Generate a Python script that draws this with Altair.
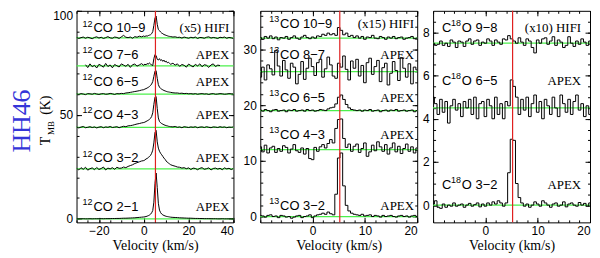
import altair as alt
import pandas as pd

# ---------------- velocity grids (km/s) ----------------
V1 = [float(v) for v in range(-30, 0)] + [v / 2 for v in range(0, 24)] + [float(v) for v in range(12, 41)]
V2 = [v / 2 for v in range(-20, 41)]
V3 = [v / 2 for v in range(-20, 41)]
CENTER = 5.2

# ---------------- panel 1: 12CO (offsets above each baseline) ----------------
CO21 = [0.0,0.0,0.0,0.05,0.0,0.0,0.05,0.0,0.05,0.05,
        0.05,0.1,0.05,0.1,0.1,0.1,0.15,0.15,0.2,0.2,
        0.25,0.3,0.3,0.35,0.4,0.45,0.5,0.6,0.7,0.8,
        0.9,1.0,1.1,1.3,1.5,1.8,2.2,2.9,4.0,8.0,17.0,22.0,
        15.0,7.5,4.2,3.0,2.3,1.9,1.6,1.4,1.2,1.1,1.0,0.9,
        0.8,0.7,0.65,0.6,0.5,0.45,0.4,0.35,0.3,0.3,
        0.25,0.2,0.2,0.15,0.15,0.1,0.1,0.1,0.05,0.05,
        0.05,0.0,0.0,0.05,0.0,0.0,0.0,0.0,0.0]
CO32 = [0.3,-0.5,0.6,-0.2,0.8,-0.6,0.1,0.5,-0.4,0.7,
        -0.3,0.2,0.9,-0.5,0.4,0.0,0.6,-0.2,0.8,0.3,
        0.4,0.9,0.6,1.2,1.6,2.0,2.6,3.0,3.4,3.8,
        4.0,4.3,4.8,5.0,5.5,5.9,6.5,7.5,9.0,12.5,17.5,18.5,
        13.0,10.0,8.5,7.5,6.8,6.0,5.2,4.6,3.8,3.2,2.8,2.4,
        2.0,1.6,1.3,0.9,0.8,0.4,0.6,0.1,0.5,-0.3,
        0.4,0.2,-0.4,0.3,0.6,-0.2,0.1,0.5,-0.5,0.2,
        0.4,-0.1,0.3,-0.4,0.5,0.0,0.3,-0.3,0.2]
CO43 = [0.2,-0.3,0.1,0.4,-0.2,0.0,0.3,-0.1,0.2,-0.3,
        0.1,0.3,-0.2,0.2,0.0,0.4,-0.1,0.1,0.3,-0.2,
        0.2,0.5,0.3,0.7,0.8,1.0,1.3,1.6,1.8,2.1,
        2.3,2.5,2.8,3.1,3.4,3.8,4.3,5.2,7.0,11.0,14.5,14.8,
        9.0,4.5,2.8,2.2,1.8,1.5,1.2,1.0,0.8,0.7,0.5,0.4,
        0.3,0.2,0.4,0.0,0.2,-0.2,0.3,0.1,-0.1,0.2,
        0.0,0.3,-0.2,0.1,0.2,-0.1,0.3,0.0,-0.2,0.2,
        0.1,-0.1,0.3,0.0,0.2,-0.2,0.1,0.0,0.2]
CO65 = [0.1,-0.2,0.2,0.0,-0.3,0.2,0.1,-0.1,0.3,0.0,
        -0.2,0.1,0.2,-0.1,0.0,0.3,0.1,-0.2,0.2,0.1,
        0.3,0.2,0.5,0.6,0.8,1.0,1.2,1.4,1.6,1.9,
        2.1,2.4,2.6,2.9,3.2,3.6,4.1,4.8,6.0,8.5,11.0,11.2,
        7.5,4.5,3.3,2.7,2.3,2.0,1.7,1.5,1.3,1.1,1.0,0.9,
        0.8,0.6,0.5,0.5,0.3,0.4,0.2,0.3,0.1,0.2,
        0.0,0.2,-0.1,0.1,0.2,0.0,0.1,-0.2,0.1,0.2,
        -0.1,0.0,0.2,0.1,-0.1,0.0,0.2,0.1,0.0]
CO76 = [None,None,None,None,0.6,-0.8,1.0,-0.4,0.3,-1.0,
        0.8,0.2,-0.6,1.2,-0.3,0.5,-0.9,0.7,0.1,-0.5,
        1.0,0.4,-0.2,0.8,-0.7,0.6,0.9,-0.1,0.5,1.1,
        0.3,0.9,0.5,1.2,0.8,1.5,1.0,0.4,0.2,3.5,5.5,5.0,
        3.2,2.8,3.5,2.6,3.0,2.2,2.8,1.9,2.3,1.5,1.8,1.2,
        0.8,1.3,0.4,1.0,-0.2,0.7,0.3,-0.6,0.9,0.2,
        -0.5,0.8,0.0,1.0,-0.4,0.6,0.3,-0.7,0.5,1.0,
        -0.3,0.4,0.2,None,None,None,None,None,None]
CO109 = [0.2,-0.3,0.1,0.4,-0.2,0.3,0.0,-0.4,0.2,0.5,
         -0.1,0.3,-0.3,0.1,0.6,0.0,-0.2,0.4,0.2,-0.3,
         0.5,1.2,0.3,0.1,0.4,-0.2,0.6,0.3,0.8,0.5,
         0.9,0.6,1.0,0.8,1.1,1.3,1.5,2.0,3.0,6.0,9.5,10.5,
         6.5,4.0,3.5,2.8,2.3,2.0,1.6,1.4,1.2,1.0,0.8,0.7,
         0.6,0.4,0.5,0.2,0.3,-0.1,0.4,0.1,-0.2,0.3,
         0.0,0.4,-0.3,0.2,0.1,-0.2,0.3,0.5,-0.1,0.2,
         0.0,-0.3,0.3,0.1,0.4,-0.2,0.2,0.0,-0.3]
P1_SERIES = [CO21, CO32, CO43, CO65, CO76, CO109]
P1_BASE = [0, 24, 44, 60, 73.5, 87]
P1_PRE = ["", "", "", "", "", ""]
P1_SUP = ["12", "12", "12", "12", "12", "12"]
P1_MAIN = ["CO 2−1", "CO 3−2", "CO 4−3", "CO 6−5", "CO 7−6", "CO 10−9"]
P1_LABEL_Y = [5.8, 29, 50, 66, 78.7, 91.5]
P1_RIGHT = ["APEX", "APEX", "APEX", "APEX", "APEX", "(x5)  HIFI"]

# ---------------- panel 2: 13CO ----------------
C13_32 = [0.2,0.1,-0.1,0.2,0.3,0.0,0.1,-0.2,0.2,0.1,-0.1,0.0,-0.3,-0.1,0.1,0.2,-0.2,0.0,0.1,0.3,
          -0.2,0.1,0.3,0.4,0.6,0.4,0.8,0.5,
          0.3,4.0,10.5,11.4,5.5,2.0,1.0,0.6,0.4,
          0.3,0.2,0.4,0.1,0.2,0.3,0.0,0.2,0.1,-0.1,0.2,0.0,0.1,0.2,0.0,-0.1,0.1,0.2,0.0,0.1,-0.1,0.1,0.2,0.0]
C13_43 = [0.5,-0.4,0.8,-0.6,0.3,0.6,-0.5,0.2,-0.3,0.7,0.4,-0.6,0.1,0.9,-0.2,-0.5,0.3,-0.8,0.2,-1.6,
          -1.8,0.4,-0.3,0.5,0.9,0.3,1.1,1.8,
          1.2,3.8,5.4,5.5,2.0,0.4,1.0,-0.3,0.6,
          1.0,-0.5,0.2,1.2,-1.2,-0.4,0.8,-0.2,1.4,0.5,-0.3,0.9,-0.8,0.3,1.2,-0.4,0.6,-0.7,0.2,1.0,-0.3,0.5,-0.6,0.3]
C13_65 = [0.1,-0.1,0.2,0.0,-0.2,0.1,0.2,-0.1,0.0,0.1,-0.2,0.1,0.0,0.2,-0.1,0.0,0.1,-0.1,0.2,0.0,
          0.1,-0.1,0.0,0.2,0.1,0.0,0.3,0.5,
          0.6,1.2,2.4,2.8,2.0,1.1,0.5,0.2,0.1,
          0.0,0.1,-0.1,0.1,0.0,0.2,-0.1,0.0,0.1,-0.2,0.0,0.1,-0.1,0.1,0.0,0.2,-0.1,0.0,0.1,-0.1,0.0,0.1,-0.2,0.0]
C13_87 = [-1.0,0.8,-1.5,1.2,0.5,-0.6,3.8,1.0,-0.8,2.0,0.3,-1.2,1.5,0.8,-2.2,-0.5,1.8,-1.4,0.6,2.4,
          0.9,-0.7,1.6,2.2,-1.0,0.5,2.6,1.2,
          -0.8,-1.2,1.5,0.8,2.8,0.4,-1.5,1.9,0.6,
          2.2,-0.8,1.1,-2.0,1.6,2.4,-0.5,0.9,2.0,-1.8,0.7,1.5,-2.4,-0.3,1.8,0.2,-1.6,2.5,0.6,-1.0,1.4,-2.2,0.8,0.3]
C13_109 = [0.1,-0.2,0.3,0.0,0.4,-0.1,0.2,-0.3,0.1,0.0,0.3,-0.2,0.1,0.4,0.0,-0.2,0.2,0.5,0.1,-0.1,
           0.2,0.0,0.4,0.3,0.7,0.5,0.9,0.6,
           0.8,0.5,1.9,1.4,0.6,0.9,0.3,0.5,0.1,
           0.4,0.0,0.3,-0.2,0.2,0.1,0.5,0.0,-0.1,0.3,0.1,-0.2,0.2,0.0,0.3,-0.1,0.1,0.2,-0.2,0.0,0.1,0.3,-0.1,0.0]
P2_SERIES = [C13_32, C13_43, C13_65, C13_87, C13_109]
P2_BASE = [0, 12, 19, 26, 32]
P2_PRE = ["", "", "", "", ""]
P2_SUP = ["13", "13", "13", "13", "13"]
P2_MAIN = ["CO 3−2", "CO 4−3", "CO 6−5", "CO 8−7", "CO 10−9"]
P2_LABEL_Y = [1.9, 14.6, 21.2, 29.0, 34.5]
P2_RIGHT = ["APEX", "APEX", "APEX", "APEX", "(x15) HIFI"]

# ---------------- panel 3: C18O ----------------
C18_32 = [0.05,0.2,-0.1,-0.15,0.05,-0.1,0.0,-0.05,0.1,-0.05,0.0,0.05,-0.1,0.0,0.08,-0.05,0.02,0.1,-0.08,0.05,
          -0.05,0.1,0.0,0.15,0.05,0.2,0.1,-0.05,
          0.1,1.5,3.05,3.0,1.0,0.35,0.1,-0.05,0.05,
          -0.1,0.0,0.15,0.05,-0.05,0.2,0.1,0.0,-0.1,0.05,0.1,-0.05,0.0,0.15,-0.08,0.05,0.1,0.0,-0.05,0.12,0.0,0.08,-0.05,0.1]
C18_65 = [0.5,0.2,-0.3,0.4,-0.2,0.3,-0.7,0.1,0.4,-0.1,0.2,-0.4,0.3,0.0,0.4,-0.3,0.5,-0.5,0.2,0.3,
          -0.4,0.4,0.1,-0.5,0.5,-0.3,0.2,-0.5,
          0.3,0.1,1.3,1.0,0.5,-0.3,0.4,-0.1,0.5,
          -0.4,0.2,0.6,-0.2,0.3,-0.5,0.4,0.1,-0.3,0.5,0.0,-0.4,0.6,0.2,-0.2,0.4,-0.3,0.3,0.6,-0.1,0.2,-0.4,0.1,-0.3]
C18_98 = [0.0,-0.1,-0.05,0.1,-0.1,0.0,-0.15,0.15,0.05,-0.2,0.1,0.05,-0.15,0.1,0.2,-0.05,0.1,0.15,-0.1,0.05,
          0.0,0.2,0.1,-0.1,0.15,0.05,-0.05,0.2,
          0.15,0.35,0.2,0.1,0.0,0.25,0.05,-0.1,0.2,
          0.1,-0.2,-0.45,0.15,0.0,0.2,0.25,-0.05,0.1,0.3,-0.1,0.15,0.05,-0.2,-0.1,0.3,0.0,-0.15,0.1,-0.05,0.2,0.05,-0.1,0.1]
P3_SERIES = [C18_32, C18_65, C18_98]
P3_BASE = [0, 4.5, 7.5]
P3_PRE = ["C", "C", "C"]
P3_SUP = ["18", "18", "18"]
P3_MAIN = ["O 3−2", "O 6−5", "O 9−8"]
P3_LABEL_Y = [0.95, 5.77, 8.2]
P3_RIGHT = ["APEX", "APEX", "(x10) HIFI"]

GREEN = "#4cf04c"
RED = "#e02020"
W, H = 158, 213
FS = 13


def long_df(vel, series, names, bases):
    rows = []
    for name, vals, b in zip(names, series, bases):
        for v, t in zip(vel, vals):
            if t is None:
                continue
            rows.append({"v": v, "T": b + t, "line": name})
    return pd.DataFrame(rows)


def tick_axis(orient, vals, size):
    return alt.Axis(orient=orient, values=vals, labels=False, domain=False, grid=False,
                    title=None, ticks=True, tickSize=size, tickColor="black", tickWidth=1,
                    offset=-size)


def panel(vel, series, pre, sup, main, bases, label_y, right, xdom, ydom, xmaj, xmin, ymaj, ymin,
          lx, rx, interp, extra=()):
    xs = alt.Scale(domain=xdom, nice=False, zero=False)
    ys = alt.Scale(domain=ydom, nice=False, zero=False)
    names = [p + s + m for p, s, m in zip(pre, sup, main)]
    spec_df = long_df(vel, series, names, bases)
    base_df = pd.DataFrame({"T": bases})
    lab_df = pd.DataFrame({"v": [lx] * len(names), "T": label_y, "pre": pre, "sup": sup, "main": main})
    rlab_df = pd.DataFrame({"v": [rx] * len(right), "T": label_y, "name": right})
    c_df = pd.DataFrame({"v": [CENTER], "T": [bases[0]]})

    rules = alt.Chart(base_df).mark_rule(color=GREEN, strokeWidth=1.3).encode(
        y=alt.Y("T:Q", scale=ys, axis=alt.Axis(orient="left", values=ymaj, ticks=False,
                                                domain=False, grid=False, title=None,
                                                labelPadding=4, format="d", labelFlush=True)))
    spec = alt.Chart(spec_df).mark_line(color="black", strokeWidth=1, interpolate=interp,
                                        clip=True).encode(
        x=alt.X("v:Q", scale=xs, axis=alt.Axis(orient="bottom", values=xmaj, ticks=False,
                                                domain=False, grid=False,
                                                title="Velocity (km/s)", titleFont="Liberation Serif",
                                                titleFontSize=14, titleFontWeight="normal",
                                                titlePadding=2, labelPadding=3, format="d")),
        y=alt.Y("T:Q", scale=ys, axis=None),
        detail="line:N")
    red = alt.Chart(c_df).mark_rule(color=RED, strokeWidth=1.2).encode(
        x=alt.X("v:Q", scale=xs, axis=None))

    has_pre = any(pre)
    pre_w = 9 if has_pre else 0
    sup_w = 11
    enc = dict(x=alt.X("v:Q", scale=xs, axis=None), y=alt.Y("T:Q", scale=ys, axis=None))
    texts = []
    if has_pre:
        texts.append(alt.Chart(lab_df).mark_text(align="left", baseline="middle", font="Liberation Sans",
                                                 fontSize=FS, color="black").encode(text="pre:N", **enc))
    texts.append(alt.Chart(lab_df).mark_text(align="left", baseline="middle", font="Liberation Sans",
                                             fontSize=9, color="black", dx=pre_w, dy=-5).encode(
        text="sup:N", **enc))
    texts.append(alt.Chart(lab_df).mark_text(align="left", baseline="middle", font="Liberation Sans",
                                             fontSize=FS, color="black", dx=pre_w + sup_w).encode(
        text="main:N", **enc))
    rtxt = alt.Chart(rlab_df).mark_text(align="right", baseline="middle", font="Liberation Serif",
                                        fontSize=FS, color="black").encode(text="name:N", **enc)
    ticks = []
    for xo, yo, xv, yv, sz in [("bottom", "left", xmaj, ymaj, 5), ("top", "right", xmaj, ymaj, 5),
                               ("bottom", "left", xmin, ymin, 2.5), ("top", "right", xmin, ymin, 2.5)]:
        ticks.append(alt.Chart(c_df).mark_point(opacity=0).encode(
            x=alt.X("v:Q", scale=xs, axis=tick_axis(xo, xv, sz)),
            y=alt.Y("T:Q", scale=ys, axis=tick_axis(yo, yv, sz))))
    layers = [rules, spec, red] + texts + [rtxt] + ticks + list(extra)
    return alt.layer(*layers).resolve_scale(x="independent", y="independent").properties(
        width=W, height=H)


side_df = pd.DataFrame({"t": ["HH46"], "a": ["T"], "b": ["MB"], "c": ["(K)"]})
hh = alt.Chart(side_df).mark_text(angle=270, align="center", baseline="middle",
                                  font="Liberation Serif", fontSize=26, color="#3535d8").encode(
    x=alt.value(-55), y=alt.value(111), text="t:N")
tt = alt.Chart(side_df).mark_text(angle=270, align="center", baseline="middle",
                                  font="Liberation Serif", fontSize=14, color="black").encode(
    x=alt.value(-31), y=alt.value(131), text="a:N")
mb = alt.Chart(side_df).mark_text(angle=270, align="center", baseline="middle",
                                  font="Liberation Serif", fontSize=9, color="black").encode(
    x=alt.value(-26), y=alt.value(118), text="b:N")
kk = alt.Chart(side_df).mark_text(angle=270, align="center", baseline="middle",
                                  font="Liberation Serif", fontSize=14, color="black").encode(
    x=alt.value(-31), y=alt.value(95), text="c:N")

p1 = panel(V1, P1_SERIES, P1_PRE, P1_SUP, P1_MAIN, P1_BASE, P1_LABEL_Y, P1_RIGHT,
           [-30, 40], [-1.7, 100], [-20, 0, 20, 40], list(range(-30, 41, 5)),
           [0, 50, 100], list(range(0, 101, 10)), -27.3, 38.2, "linear",
           extra=(hh, tt, mb, kk))
p2 = panel(V2, P2_SERIES, P2_PRE, P2_SUP, P2_MAIN, P2_BASE, P2_LABEL_Y, P2_RIGHT,
           [-10, 20], [-1.05, 36.9], [0, 10, 20], list(range(-10, 21, 2)),
           [0, 10, 20, 30], list(range(0, 37, 2)), -8.3, 19.4, "step")
p3 = panel(V3, P3_SERIES, P3_PRE, P3_SUP, P3_MAIN, P3_BASE, P3_LABEL_Y, P3_RIGHT,
           [-10, 20], [-0.8, 9.0], [0, 10, 20], list(range(-10, 21, 2)),
           [0, 2, 4, 6, 8], [x / 2 for x in range(0, 18)], -8.3, 18.3, "step")

inner = alt.hconcat(p1, p2, spacing=27, bounds="flush")
chart = alt.hconcat(inner, p3, spacing=2).properties(
    padding={"left": 0, "top": 0, "right": 0, "bottom": 0}
).configure_view(stroke="black", strokeWidth=1).configure_axis(
    labelFont="Liberation Sans", labelFontSize=12, labelColor="black", titleColor="black")

chart.save("out.html", embed_options={"renderer": "svg", "actions": False})
